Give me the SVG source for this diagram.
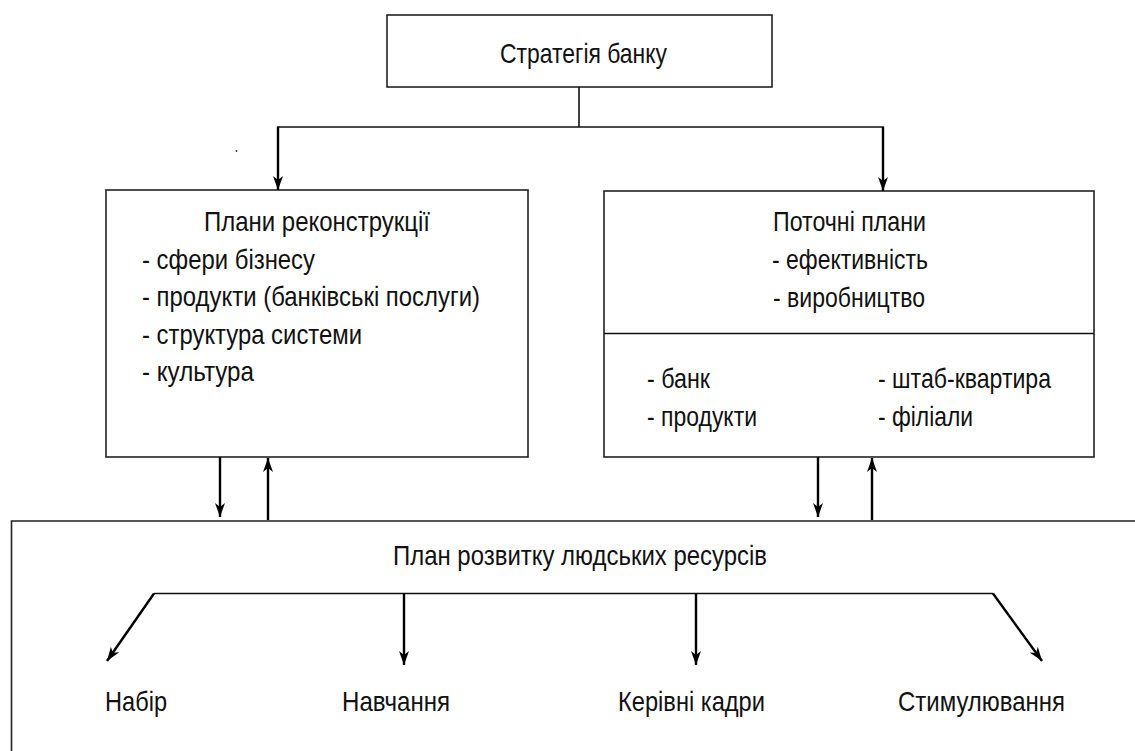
<svg xmlns="http://www.w3.org/2000/svg" width="1135" height="751" viewBox="0 0 1135 751">
<style>
.box{fill:#fff;stroke:#222;stroke-width:1.6}
.ln{fill:none;stroke:#111;stroke-width:1.6}
.ar{fill:none;stroke:#000;stroke-width:2.4}
text{font-family:"Liberation Sans Narrow","Liberation Sans",Arial,sans-serif;font-size:28px;fill:#111}
</style>
<defs>
<marker id="ah" viewBox="0 0 14 10" refX="14" refY="5" markerWidth="15" markerHeight="10" markerUnits="userSpaceOnUse" orient="auto">
<path d="M0,0 L14,5 L0,10 L4,5 z" fill="#000"/>
</marker>
</defs>
<rect width="1135" height="751" fill="#fff"/>
<g id="strategy">
<rect class="box" x="387" y="15" width="385" height="72"/>
<text x="500" y="63" textLength="167" lengthAdjust="spacingAndGlyphs">Стратегія банку</text>
</g>
<g id="reconstruction">
<rect class="box" x="106" y="190" width="422" height="267"/>
<text x="204" y="231" textLength="226" lengthAdjust="spacingAndGlyphs">Плани реконструкції</text>
<text x="142" y="269" textLength="173" lengthAdjust="spacingAndGlyphs">- сфери бізнесу</text>
<text x="142" y="306" textLength="338" lengthAdjust="spacingAndGlyphs">- продукти (банківські послуги)</text>
<text x="142" y="344" textLength="220" lengthAdjust="spacingAndGlyphs">- структура системи</text>
<text x="142" y="381" textLength="112" lengthAdjust="spacingAndGlyphs">- культура</text>
</g>
<g id="current">
<rect class="box" x="604" y="191" width="490" height="266"/>
<line class="ln" x1="604" y1="333.5" x2="1094" y2="333.5"/>
<text x="773" y="231" textLength="153" lengthAdjust="spacingAndGlyphs">Поточні плани</text>
<text x="772" y="269" textLength="156" lengthAdjust="spacingAndGlyphs">- ефективність</text>
<text x="773" y="307" textLength="152" lengthAdjust="spacingAndGlyphs">- виробництво</text>
<text x="647" y="388" textLength="63" lengthAdjust="spacingAndGlyphs">- банк</text>
<text x="647" y="426" textLength="110" lengthAdjust="spacingAndGlyphs">- продукти</text>
<text x="878" y="388" textLength="173" lengthAdjust="spacingAndGlyphs">- штаб-квартира</text>
<text x="878" y="426" textLength="95" lengthAdjust="spacingAndGlyphs">- філіали</text>
</g>
<g id="hr-plan">
<path class="box" d="M1135,521 H11.5 V751" fill="none"/>
<text x="393" y="565" textLength="374" lengthAdjust="spacingAndGlyphs">План розвитку людських ресурсів</text>
</g>
<g id="recruitment"><text x="105" y="711" textLength="62" lengthAdjust="spacingAndGlyphs">Набір</text></g>
<g id="training"><text x="342" y="711" textLength="108" lengthAdjust="spacingAndGlyphs">Навчання</text></g>
<g id="management"><text x="618" y="711" textLength="147" lengthAdjust="spacingAndGlyphs">Керівні кадри</text></g>
<g id="motivation"><text x="898" y="711" textLength="167" lengthAdjust="spacingAndGlyphs">Стимулювання</text></g>
<g id="connectors">
<polyline class="ln" points="579,87 579,127"/>
<line class="ln" x1="277" y1="127" x2="884" y2="127"/>
<line class="ar" x1="278" y1="127" x2="278" y2="190" marker-end="url(#ah)"/>
<line class="ar" x1="883" y1="127" x2="883" y2="191" marker-end="url(#ah)"/>
<line class="ar" x1="220" y1="457" x2="220" y2="517" marker-end="url(#ah)"/>
<line class="ar" x1="268" y1="520" x2="268" y2="458" marker-end="url(#ah)"/>
<line class="ar" x1="818" y1="457" x2="818" y2="517" marker-end="url(#ah)"/>
<line class="ar" x1="872" y1="520" x2="872" y2="458" marker-end="url(#ah)"/>
<line class="ln" x1="154" y1="593.5" x2="993" y2="593.5"/>
<line class="ar" x1="154" y1="593.5" x2="107" y2="661" marker-end="url(#ah)"/>
<line class="ar" x1="404" y1="593.5" x2="404" y2="665" marker-end="url(#ah)"/>
<line class="ar" x1="696" y1="593.5" x2="696" y2="665" marker-end="url(#ah)"/>
<line class="ar" x1="993" y1="593.5" x2="1042" y2="661" marker-end="url(#ah)"/>
</g>
<circle cx="236.5" cy="151" r="0.9" fill="#333"/>
</svg>
